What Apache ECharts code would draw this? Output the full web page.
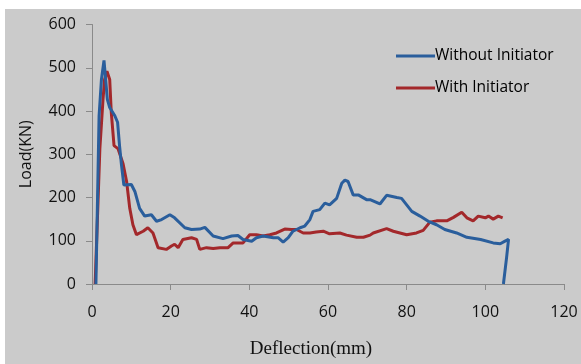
<!DOCTYPE html>
<html>
<head>
<meta charset="utf-8">
<script src="https://cdn.jsdelivr.net/npm/echarts@6/dist/echarts.min.js"></script>
<style>
  html, body { margin: 0; padding: 0; background: #ffffff; }
  #chart { width: 581px; height: 364px; }
</style>
</head>
<body>
<div id="chart"></div>
<script>
// Load–deflection curves of the two specimens
const seriesNames = ['Without Initiator', 'With Initiator'];

const withoutDeflection = [1.0, 1.8, 2.4, 3.05, 3.5, 3.9, 4.5, 5.8, 6.5, 7.0, 7.5, 8.1, 10.0, 10.9, 12.1, 13.4, 15.1, 16.4, 17.7, 19.8, 20.2, 21.0, 23.6, 25.3, 27.4, 28.7, 30.8, 33.3, 35.5, 37.1, 38.4, 40.6, 41.8, 43.5, 46.1, 47.3, 48.6, 49.9, 51.1, 52.9, 54.1, 55.4, 56.2, 57.9, 59.2, 60.4, 62.2, 63.5, 64.3, 65.1, 66.4, 67.7, 69.8, 70.7, 73.2, 74.9, 77.5, 78.7, 80.0, 81.3, 83.4, 85.5, 87.6, 89.7, 92.7, 95.3, 98.8, 102.0, 103.8, 105.0, 105.9, 105.4, 104.6];
const withoutLoad = [0, 389, 473, 517, 470, 427, 408, 389, 374, 320, 275, 229, 230, 214, 175, 157, 160, 145, 149, 160, 164, 153, 130, 126, 127, 131, 111, 105, 111, 112, 103, 99, 107, 111, 107, 107, 97, 107, 122, 130, 134, 149, 168, 172, 187, 183, 198, 233, 240, 237, 206, 206, 195, 195, 185, 205, 200, 198, 183, 168, 157, 145, 137, 126, 118, 108, 103, 95, 93, 99, 103, 61, 0];

const withDeflection = [0.8, 2.0, 2.8, 3.2, 3.8, 4.5, 4.9, 5.6, 6.6, 7.9, 8.8, 9.6, 10.4, 11.3, 13.0, 14.2, 15.5, 16.8, 18.9, 20.2, 21.0, 21.9, 23.1, 25.3, 26.6, 27.4, 29.1, 30.8, 32.5, 34.6, 35.9, 37.1, 38.4, 40.1, 41.8, 43.5, 45.2, 46.9, 49.0, 50.7, 52.0, 53.7, 55.4, 57.0, 58.8, 60.4, 63.0, 64.7, 67.3, 69.0, 70.7, 71.5, 74.9, 76.6, 80.0, 82.5, 84.2, 85.9, 87.6, 90.2, 91.9, 94.0, 95.3, 96.9, 98.2, 100.0, 100.8, 102.0, 103.3, 104.4];
const withLoad = [0, 313, 427, 473, 492, 473, 397, 320, 313, 278, 237, 175, 137, 114, 122, 130, 118, 84, 80, 88, 92, 84, 103, 107, 103, 80, 84, 82, 84, 84, 95, 95, 95, 114, 114, 111, 114, 118, 127, 126, 126, 118, 118, 120, 122, 116, 118, 113, 108, 108, 113, 118, 128, 122, 114, 118, 124, 143, 146, 146, 154, 166, 153, 146, 157, 153, 157, 150, 157, 153];

const xTicks = [0, 20, 40, 60, 80, 100, 120];
const yTicks = [0, 100, 200, 300, 400, 500, 600];

const pairs = (xs, ys) => xs.map((x, i) => [x, ys[i]]);

const axisFont = { fontFamily: 'Open Sans', fontSize: 16, color: '#111111' };
const axisLine = { show: true, lineStyle: { color: '#8a8a8a', width: 1 } };

const chart = echarts.init(document.getElementById('chart'), null, { renderer: 'canvas' });
chart.setOption({
  animation: false,
  backgroundColor: '#ffffff',
  graphic: [{
    type: 'rect', left: 5, top: 9, z: -10,
    shape: { width: 576, height: 355 },
    style: { fill: '#cbcbcb' }
  }],
  grid: { left: 92, right: 17, top: 24.5, bottom: 77.5, containLabel: false },
  legend: {
    orient: 'vertical', left: 391, top: 42,
    itemWidth: 39, itemHeight: 3, itemGap: 14,
    icon: 'rect',
    textStyle: { fontFamily: 'Open Sans', fontSize: 15.5, color: '#000000', lineHeight: 18, padding: [0, 0, 0, -5] },
    data: seriesNames
  },
  xAxis: {
    type: 'value', min: xTicks[0], max: xTicks[xTicks.length - 1], interval: 20,
    name: 'Deflection(mm)', nameLocation: 'middle', nameGap: 56,
    nameTextStyle: { fontFamily: 'Liberation Serif', fontSize: 19, color: '#111111', padding: [0, 34, 0, 0] },
    axisLine: axisLine,
    axisTick: { show: true, length: 6, inside: false, lineStyle: { color: '#8a8a8a' } },
    axisLabel: Object.assign({ margin: 20 }, axisFont),
    splitLine: { show: false }
  },
  yAxis: {
    type: 'value', min: yTicks[0], max: yTicks[yTicks.length - 1], interval: 100,
    name: 'Load(KN)', nameLocation: 'middle', nameGap: 58,
    nameTextStyle: { fontFamily: 'Open Sans', fontSize: 16, color: '#111111' },
    axisLine: axisLine,
    axisTick: { show: true, length: 6, inside: false, lineStyle: { color: '#8a8a8a' } },
    axisLabel: Object.assign({ margin: 16 }, axisFont),
    splitLine: { show: false }
  },
  series: [
    {
      name: seriesNames[0], type: 'line', symbol: 'none', smooth: false,
      lineStyle: { color: '#2a5e9c', width: 3 }, itemStyle: { color: '#2a5e9c' },
      data: pairs(withoutDeflection, withoutLoad), z: 3
    },
    {
      name: seriesNames[1], type: 'line', symbol: 'none', smooth: false,
      lineStyle: { color: '#a3282b', width: 3 }, itemStyle: { color: '#a3282b' },
      data: pairs(withDeflection, withLoad), z: 2
    }
  ]
});
</script>
</body>
</html>
